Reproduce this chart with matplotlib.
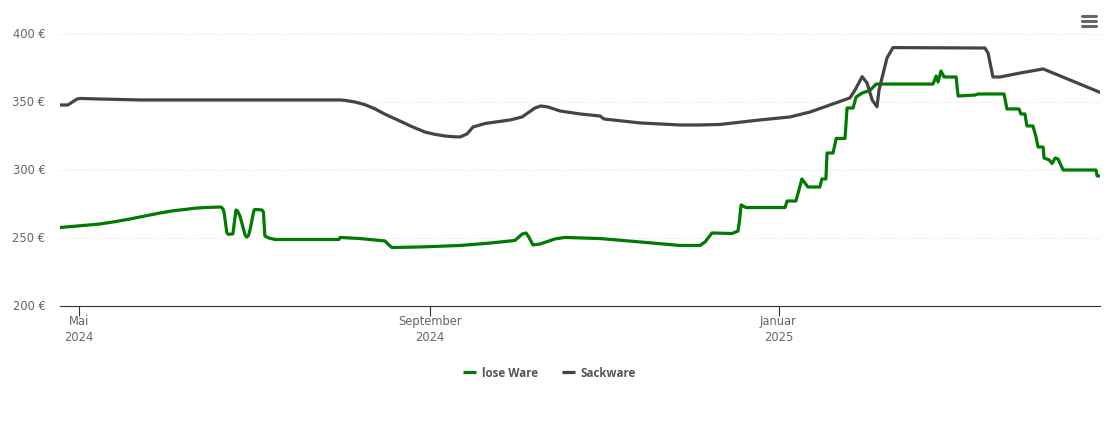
import matplotlib
matplotlib.use("Agg")
import matplotlib.pyplot as plt
from matplotlib.lines import Line2D
from matplotlib.transforms import ScaledTranslation

# x values are days since 1 May 2024
lose_days = [-6.7, 7.4, 12.6, 17.9, 23.1, 28.4, 32.9, 37.1, 40.6, 44.1, 49.7, 50.4, 50.8, 51.8, 52.3, 53.9, 54.3, 55, 55.5, 56.4, 58.2, 58.8, 59.4, 59.9, 61.3, 61.8, 64.1, 64.6, 65.1,
             66.5, 68.7, 91.1, 91.4, 98.4, 107.2, 108.2, 109.6, 119.4, 133.5, 144, 152.7, 155.2, 156.6, 157.6, 159, 161.5, 166.7, 170.2,
             182.5, 196.5, 210.5, 217.5, 219.3, 221.7, 228.7, 230.8, 231.3, 231.9, 233.6, 247.3, 248, 251.1, 253.2, 255.3,
             259.5, 260.2, 261.6, 262, 264.1, 265.2, 268.3, 269, 271.1, 272.2, 274.3, 277, 279.2, 299.1, 300.2, 300.9,
             301.9, 303, 307.2, 307.9, 313.8, 314.9, 324, 325, 329.2, 329.9, 331.3, 332, 334.1, 335.2, 335.9, 337.7,
             338, 339.8, 340.8, 341.9, 342.9, 344.7, 356.2, 356.6, 357.6]
lose_prices = [257.7, 260.3, 262, 264, 266.2, 268.4, 270, 271, 271.9, 272.4, 272.8, 271.5, 269, 253.7, 252.7, 253, 259.6, 270.6, 270, 266, 252, 250.7, 252, 256, 270.6, 271, 270.6, 269, 251.5,
               250, 248.9, 248.9, 250.4, 249.6, 247.8, 245.5, 243, 243.4, 244.5, 246.3, 248.2, 252.9, 253.7, 250.5, 244.9, 245.6, 249.3, 250.4,
               249.6, 247.1, 244.5, 244.5, 247.1, 253.7, 253.3, 255.1, 262, 274.3, 272.4, 272.4, 277.2, 277.2, 293.4, 287.5,
               287.5, 293.4, 293.4, 312.5, 312.5, 323.2, 323.2, 345.6, 345.6, 353.7, 356.6, 358.5, 363.2, 363.2, 369.1, 364.7,
               372.8, 368.4, 368.4, 354.4, 355.1, 355.9, 355.9, 344.9, 344.9, 341.2, 341.2, 332.4, 332.4, 324.3, 316.9, 316.9,
               308.8, 307.4, 304.8, 308.8, 308.1, 300, 300, 295.6, 295.6]

sack_days = [-6.7, -3.9, -0.7, 0.4, 7.4, 21.4, 42.4, 91.4, 93.2, 96.7, 100.2, 103.7, 107.2, 112.4, 116.5, 121.2, 124.7, 128.2, 130.9, 133.5, 135.9, 138, 142.2, 151,
             155.2, 159.7, 161.8, 164.3, 168.5, 175.5, 182.5, 183.9, 196.5, 210.5, 217.5, 224.5, 238.5, 249, 256, 263, 270, 271.8,
             274.3, 276, 277.8, 279.5, 280.2, 283, 285.1, 317.3, 318.4, 320.1, 322.6, 329.6, 337.7, 357.6]
sack_prices = [347.8, 347.8, 352.2, 352.6, 352.2, 351.5, 351.5, 351.5, 351.2, 350, 348, 344.9, 341, 336, 332, 327.9, 326.2, 325, 324.5, 324.3, 326.5, 331.6, 334.2, 336.8,
               339, 345.6, 347.1, 346.3, 343.4, 341.2, 339.7, 337.5, 334.6, 333.1, 333.1, 333.5, 336.8, 339, 342.6, 347.8, 353, 358.8,
               368.6, 364, 351.5, 346.5, 358.8, 382.4, 390, 389.7, 386, 368.4, 368.4, 371.3, 374.3, 357.1]

y_ticks = [200, 250, 300, 350, 400]
month_ticks = [0, 123, 245]
month_labels = ["Mai\n2024", "September\n2024", "Januar\n2025"]

W, H = 1110, 423
fig = plt.figure(figsize=(W / 100, H / 100), dpi=100)
ax = fig.add_axes([60 / W, 1 - 306 / H, 1040 / W, 272 / H])

ax.plot(lose_days, lose_prices, color="#007a00", lw=2.3, solid_joinstyle="round", label="lose Ware")
ax.plot(sack_days, sack_prices, color="#444444", lw=2.3, solid_joinstyle="round", label="Sackware")

ax.set_xlim(-6.65, 357.6)
ax.set_ylim(200, 400)

for s in ["top", "right", "left"]:
    ax.spines[s].set_visible(False)
ax.spines["bottom"].set_color("#333333")
ax.spines["bottom"].set_linewidth(0.8)

ax.set_yticks(y_ticks)
ax.set_yticklabels([f"{v} €" for v in y_ticks], va="center_baseline")
ax.tick_params(axis="y", length=0, pad=10.5, labelsize=8.3, labelcolor="#666666")
# y labels sit a pixel above the grid lines in the reference
up = ScaledTranslation(0, 1 / 100, fig.dpi_scale_trans)
for label in ax.get_yticklabels():
    label.set_transform(label.get_transform() + up)
ax.set_xticks(month_ticks)
ax.set_xticklabels(month_labels, linespacing=1.25)
ax.tick_params(axis="x", length=7, width=0.8, color="#333333", pad=-0.5, labelsize=8.3, labelcolor="#666666")
ax.grid(axis="y", color="#dddddd", lw=0.7, ls=(0, (1, 2)))
ax.set_axisbelow(True)

leg = fig.legend(loc="center", bbox_to_anchor=(549.5 / W, 1 - 373 / H), ncol=2, frameon=False,
                 handlelength=1.1, columnspacing=2.1, handletextpad=0.5,
                 prop={"family": "Open Sans", "size": 8.4, "weight": "bold"})
for t in leg.get_texts():
    t.set_color("#555555")
for line in leg.get_lines():
    line.set_solid_capstyle("butt")

# menu icon, top right
for py in [16, 21.5, 26.5]:
    fig.add_artist(Line2D([1082 / W, 1096 / W], [1 - py / H, 1 - py / H], color="#666666", lw=2.2,
                          solid_capstyle="round"))

fig.savefig("out.png", dpi=100)
